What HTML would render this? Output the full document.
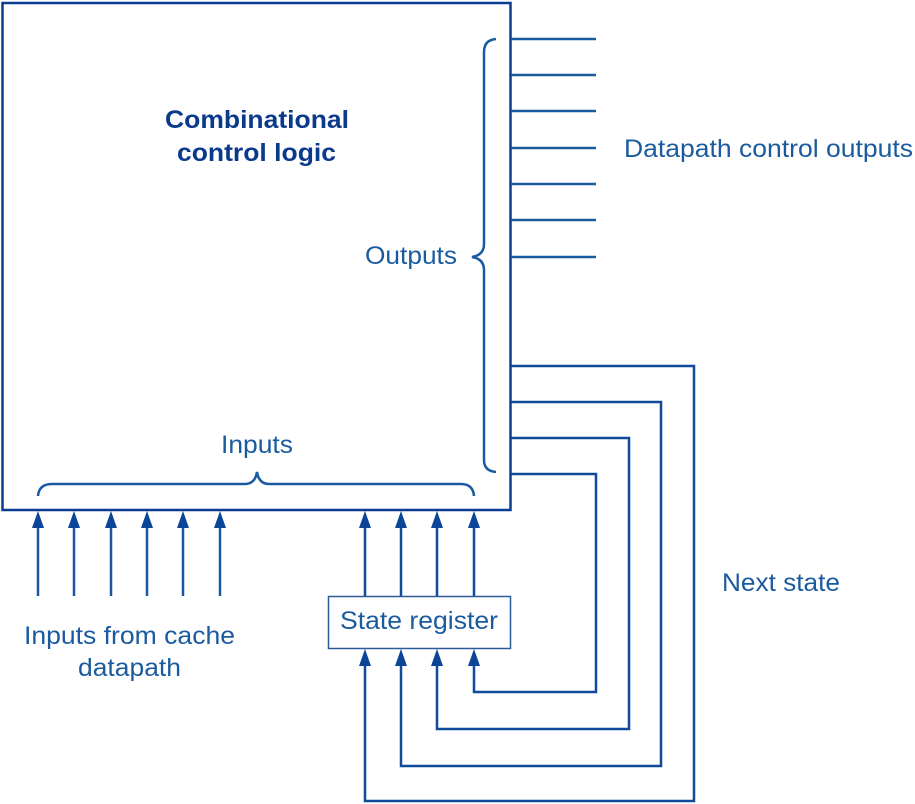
<!DOCTYPE html>
<html><head><meta charset="utf-8"><style>
html,body{margin:0;padding:0;background:#fff;}
svg{display:block;}
text{font-family:"Liberation Sans",Arial,sans-serif;}
</style></head><body>
<svg width="915" height="804" viewBox="0 0 915 804" xmlns="http://www.w3.org/2000/svg">
<g fill="none" stroke="#0f4b9a" stroke-width="2.5">
<rect x="2.5" y="3" width="508" height="507" stroke="#0a3d91"/>
<path d="M511 39H596M511 75H596M511 111H596M511 148H596M511 184H596M511 220H596M511 257H596" stroke="#1a5a9f"/>
<path d="M496 39 Q484 40 484 52 V244 Q484 255 472 257 Q484 259 484 270 V460 Q484 471 496 472" stroke="#1a5aa0"/>
<path d="M38 496 Q39 484 52 484 H245 Q255 484 257 472 Q259 484 269 484 H461 Q473 484 474 496" stroke="#1a5aa0"/>
<path d="M38 596V520M74 596V520M111 596V520M147 596V520M183 596V520M220 596V520" stroke="#1a55a0"/>
<path d="M365 596V520M401 596V520M437 596V520M474 596V520"/>
<path d="M511 366H694V801H365V658"/>
<path d="M511 402H661V766H401V658"/>
<path d="M511 438H629V729H437V658"/>
<path d="M511 474H596V692H474V658"/>
</g>
<rect x="328.5" y="596.5" width="182" height="52" fill="#fff" stroke="#2a5c9a" stroke-width="1.5"/>
<g fill="#0a4597">
<path d="M38 511l-6 17h12zM74 511l-6 17h12zM111 511l-6 17h12zM147 511l-6 17h12zM183 511l-6 17h12zM220 511l-6 17h12z"/>
<path d="M365 511l-6 17h12zM401 511l-6 17h12zM437 511l-6 17h12zM474 511l-6 17h12z"/>
<path d="M365 649l-6 17h12zM401 649l-6 17h12zM437 649l-6 17h12zM474 649l-6 17h12z"/>
</g>
<g fill="#0a3a8c" font-weight="bold" font-size="25">
<text x="165" y="128" textLength="184" lengthAdjust="spacingAndGlyphs">Combinational</text>
<text x="177" y="161" textLength="159" lengthAdjust="spacingAndGlyphs">control logic</text>
</g>
<g fill="#1a5a9f" font-size="25">
<text x="221" y="453" textLength="72" lengthAdjust="spacingAndGlyphs">Inputs</text>
<text x="365" y="264" textLength="92" lengthAdjust="spacingAndGlyphs">Outputs</text>
<text x="624" y="157" textLength="289" lengthAdjust="spacingAndGlyphs">Datapath control outputs</text>
<text x="722" y="591" textLength="118" lengthAdjust="spacingAndGlyphs">Next state</text>
<text x="24" y="644" textLength="211" lengthAdjust="spacingAndGlyphs">Inputs from cache</text>
<text x="78" y="676" textLength="103" lengthAdjust="spacingAndGlyphs">datapath</text>
<text x="340" y="629" textLength="158" lengthAdjust="spacingAndGlyphs">State register</text>
</g>
</svg>
</body></html>
